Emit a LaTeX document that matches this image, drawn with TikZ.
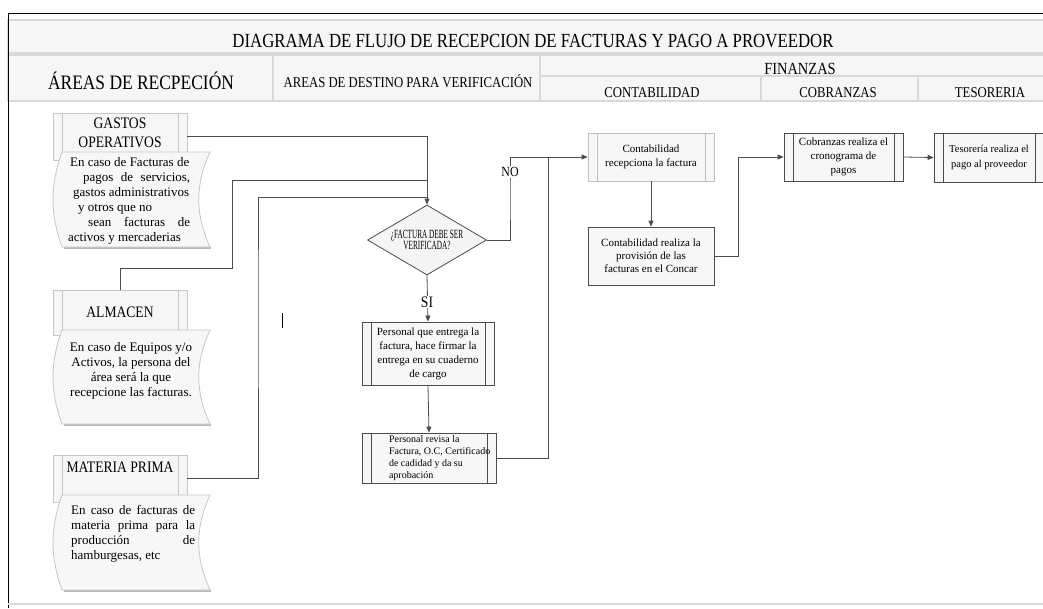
\documentclass[tikz,border=0pt]{standalone}
\usepackage{fontspec}
\setmainfont{Liberation Serif}
\newfontfamily\capsfont[FakeStretch=0.85]{Liberation Serif}
\newfontfamily\titlefont[FakeStretch=0.84]{Liberation Serif}
\newfontfamily\narrowfont[FakeStretch=0.58]{Liberation Serif}
\usetikzlibrary{shapes.geometric,arrows.meta}

\tikzset{
  hdrcell/.style={draw=gray!30, line width=1.2pt, fill=gray!7},
  hdrtext/.style={font=\capsfont\fontsize{15}{17}\selectfont, inner sep=0pt, anchor=base},
  inlines/.style={path picture={
      \draw[#1, line width=0.8pt]
        ([xshift=9pt]path picture bounding box.north west) -- ([xshift=9pt]path picture bounding box.south west)
        ([xshift=-9pt]path picture bounding box.north east) -- ([xshift=-9pt]path picture bounding box.south east);}},
  areabox/.style={draw=gray!45, fill=gray!7, line width=0.8pt, inner sep=0pt,
      minimum width=134pt, minimum height=47pt, inlines=gray!45, align=center,
      font=\capsfont\fontsize{16}{19}\selectfont},
  docform/.style={draw=gray!45, fill=gray!6, line width=0.8pt},
  doctext/.style={inner sep=0pt, font=\fontsize{13}{15}\selectfont},
  procbox/.style={draw=black!70, fill=gray!6, line width=0.8pt, inner sep=0pt,
      align=center, font=\fontsize{11}{14}\selectfont},
  procline/.style={procbox, inlines=black!70},
  decision/.style={diamond, draw=black!70, fill=gray!8, line width=0.8pt, inner sep=0pt,
      minimum width=119pt, minimum height=70pt, aspect=1.7, align=center,
      font=\narrowfont\fontsize{12.5}{11}\selectfont},
  conn/.style={draw=black!70, line width=0.8pt},
  arr/.style={conn, -{Triangle[length=6pt,width=5pt]}},
  lbl/.style={fill=white, inner sep=1pt, font=\capsfont\fontsize{14}{16}\selectfont}
}

\begin{document}
\begin{tikzpicture}[x=1pt,y=-1pt]
\useasboundingbox (0,0) rectangle (1043,608);

% cabecera
\filldraw[hdrcell] (8,20) rectangle (1050,53);
\filldraw[hdrcell] (8,55) rectangle (273,101);
\filldraw[hdrcell] (273,55) rectangle (540,101);
\filldraw[hdrcell] (540,55) rectangle (1050,76);
\foreach \a/\b in {540/761,761/918,918/1050}
     \filldraw[hdrcell] (\a,76) rectangle (\b,101);
\draw[black, line width=1pt] (8,608) -- (8,13) -- (1050,13);
\draw[gray!30, line width=1.5pt] (8,604) -- (1050,604);

\node[hdrtext, font=\titlefont\fontsize{20}{22}\selectfont] (titulo) at (533,47)
     {DIAGRAMA DE FLUJO DE RECEPCION DE FACTURAS Y PAGO A PROVEEDOR};
\node[hdrtext, font=\capsfont\fontsize{20.5}{22}\selectfont] (hrecep) at (141,89) {ÁREAS DE RECPECIÓN};
\node[hdrtext] (hdest) at (408,87) {AREAS DE DESTINO PARA VERIFICACIÓN};
\node[hdrtext, font=\capsfont\fontsize{17}{19}\selectfont] (hfin) at (800,74) {FINANZAS};
\node[hdrtext] (hcont) at (652,97) {CONTABILIDAD};
\node[hdrtext] (hcob) at (838,97) {COBRANZAS};
\node[hdrtext] (htes) at (990,97) {TESORERIA};

% areas de recepcion
\node[areabox, text height=30pt, text depth=9pt] (gastos) at (120,136.5) {GASTOS\\OPERATIVOS};
\node[areabox, minimum height=45pt] (almacen) at (120,312.5) {ALMACEN};
\node[areabox, text height=11pt, text depth=24pt] (matprim) at (120,478.5) {MATERIA PRIMA};

\foreach \t/\b in {152/247,330/424,495/590}
{
  \draw[gray!55, line width=2pt] (64,\b+1) -- (211,\b+1);
  \filldraw[docform] (62,\t) -- (210,\t)
     .. controls (195,{\t+0.35*(\b-\t)}) and (195,{\t+0.65*(\b-\t)}) .. (210,\b)
     -- (62,\b)
     .. controls (50,{\b-0.35*(\b-\t)}) and (50,{\t+0.35*(\b-\t)}) .. (62,\t) -- cycle;
}

\node[doctext, anchor=north west, align=left] (gastostxt) at (68,157)
     {\hspace*{2pt}En caso de Facturas de\\
      \hspace*{15pt}\makebox[107pt][s]{pagos de servicios,}\\
      \hspace*{5pt}gastos administrativos\\
      \hspace*{10pt}y otros que no\\
      \hspace*{20pt}\makebox[102pt][s]{sean facturas de}\\
      activos y mercaderias};
\node[doctext, align=center] (almacentxt) at (131,371)
     {En caso de Equipos y/o\\Activos, la persona del\\área será la que\\recepcione las facturas.};
\node[doctext, anchor=north west, align=left] (matprimtxt) at (71,505)
     {\makebox[124pt][s]{En caso de facturas de}\\
      \makebox[124pt][s]{materia prima para la}\\
      \makebox[124pt][s]{producción de}\\
      hamburgesas, etc};

% verificacion
\node[decision] (verif) at (427,240) {¿FACTURA DEBE SER\\VERIFICADA?};
\node[procline, minimum width=132pt, minimum height=63pt] (entrega) at (428,353.5)
     {Personal que entrega la\\factura, hace firmar la\\entrega en su cuaderno\\de cargo};
\node[procline, minimum width=134pt, minimum height=50pt, align=left, font=\fontsize{10}{11.8}\selectfont]
     (revisa) at (429,458)
     {\makebox[134pt][l]{\hspace*{27pt}\parbox{120pt}{Personal revisa la\\Factura, O.C, Certificado\\de cadidad y da su\\aprobación}}};

% finanzas
\node[procbox, draw=gray!50, inlines=gray!50, minimum width=126pt, minimum height=48pt] (recibe) at (651,157)
     {Contabilidad\\recepciona la factura};
\node[procbox, minimum width=126pt, minimum height=58pt, font=\fontsize{11}{13}\selectfont]
     (provision) at (651,256)
     {Contabilidad realiza la\\provisión de las\\facturas en el Concar};
\node[procline, minimum width=119pt, minimum height=48pt] (cronog) at (843.5,157)
     {Cobranzas realiza el\\cronograma de\\pagos};
\node[procline, minimum width=110pt, minimum height=49pt, font=\fontsize{10.5}{15}\selectfont] (pago) at (989,157.5)
     {Tesorería realiza el\\pago al proveedor};

% conectores
\coordinate (ua) at (232,268);
\coordinate (ub) at (427,180);
\coordinate (uc) at (258,300);
\coordinate (ud) at (427,197);
\coordinate (ue) at (510,200);
\coordinate (uf) at (548,157);
\coordinate (ug) at (738,200);

\draw[arr] (gastos.east) -| (verif.north);
\draw[conn] (almacen.north) |- (ua) |- (ub);
\draw[conn] (matprim.east) -| (uc) |- (ud);
\draw[arr] (verif.east) -| (ue) |- (recibe.west);
\draw[conn] (revisa.east) -| (uf);
\draw[arr] (verif.south) -- (entrega.north);
\draw[arr] (entrega.south) -- (revisa.north);
\draw[arr] (recibe.south) -- (provision.north);
\draw[arr] (provision.east) -| (ug) |- (cronog.west);
\draw[arr] (cronog.east) -- (pago.west);

\node[lbl, font=\capsfont\fontsize{14}{16}\selectfont] (no) at (510,172) {NO};
\node[lbl, font=\capsfont\fontsize{16}{18}\selectfont] (si) at (427,302) {SI};

\draw[black, line width=0.8pt] (282,313) -- (282,328);

\end{tikzpicture}
\end{document}
